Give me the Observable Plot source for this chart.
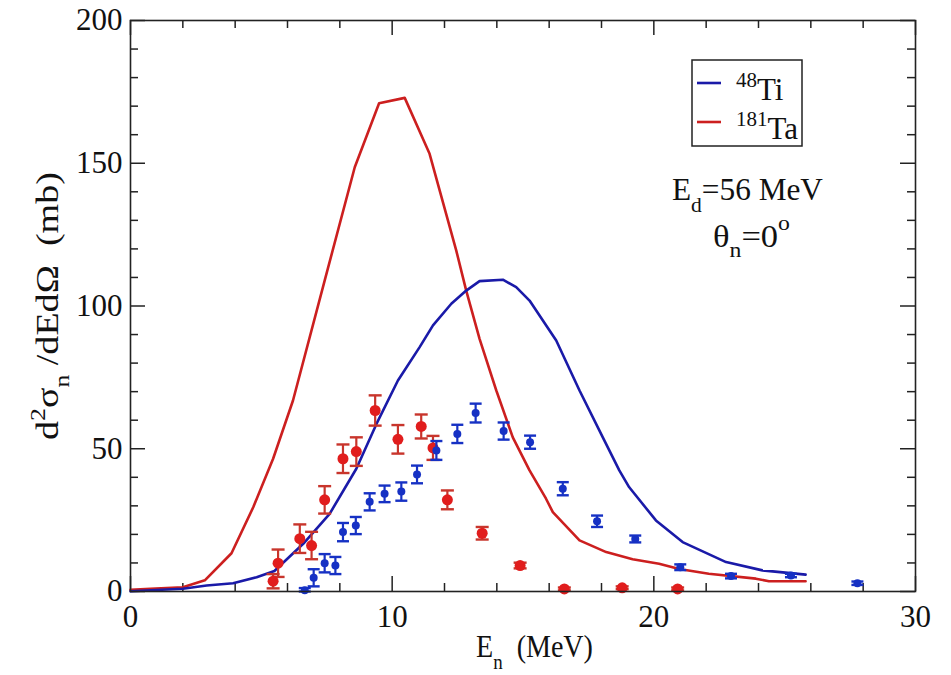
<!DOCTYPE html>
<html>
<head>
<meta charset="utf-8">
<script src="https://cdn.jsdelivr.net/npm/d3@7"></script>
<script src="https://cdn.jsdelivr.net/npm/@observablehq/plot@0.6"></script>
<style>
  html, body { margin: 0; padding: 0; background: #fff; }
  #chart { width: 951px; height: 675px; }
  #chart svg, #chart svg text, #chart svg tspan { font-family: "Liberation Serif", "Times New Roman", Times, "DejaVu Serif", serif !important; }
</style>
</head>
<body>
<div id="chart"></div>
<script>
// ---------- data ----------
const seriesNames = ["48Ti", "181Ta"];

// 48Ti experimental points: E_n (MeV), d2sigma (mb), error (mb)
const tiX   = [6.66, 7.0, 7.42, 7.83, 8.12, 8.61, 9.14, 9.71, 10.35, 10.95, 11.69, 12.49, 13.19, 14.26, 15.27, 16.52, 17.83, 19.29, 21.01, 22.95, 25.24, 27.78];
const tiY   = [0.4, 4.8, 9.9, 9.1, 20.8, 23.1, 31.4, 34.2, 35.0, 41.0, 49.4, 55.2, 62.5, 56.2, 52.3, 36.0, 24.6, 18.4, 8.5, 5.4, 5.6, 2.9];
const tiErr = [0.8, 3.0, 3.2, 3.0, 3.2, 3.0, 3.0, 2.9, 3.2, 3.1, 3.3, 3.2, 3.3, 3.0, 2.3, 2.3, 2.0, 1.2, 1.0, 0.8, 0.6, 0.6];

// 181Ta experimental points
const taX   = [5.45, 5.64, 6.47, 6.92, 7.42, 8.12, 8.63, 9.35, 10.22, 11.11, 11.56, 12.11, 13.44, 14.89, 16.58, 18.79, 20.91];
const taY   = [3.6, 9.9, 18.5, 16.1, 32.1, 46.5, 49.0, 63.4, 53.3, 57.8, 50.3, 32.1, 20.4, 9.1, 0.9, 1.3, 0.9];
const taErr = [2.5, 4.8, 5.0, 4.8, 4.8, 5.0, 5.0, 5.3, 5.0, 4.2, 4.2, 3.3, 2.2, 1.0, 0.5, 0.5, 0.5];

// calculated curves
const tiCurveX = [0, 2.0, 2.91, 3.92, 4.82, 5.5, 6.6, 7.61, 8.63, 9.4, 10.22, 11.05, 11.56, 12.26, 12.83, 13.34, 14.23, 14.74, 15.25, 16.27, 17.16, 18.05, 18.68, 19.06, 20.08, 21.1, 22.76, 24.15, 25.8];
const tiCurveY = [0.1, 0.95, 2.1, 2.9, 5.0, 7.2, 16.7, 27.2, 43.0, 58.7, 73.9, 85.6, 93.2, 100.8, 105.4, 108.7, 109.2, 106.6, 101.9, 87.9, 70.4, 54.0, 42.4, 36.5, 24.9, 17.3, 10.3, 7.4, 5.9];
const taCurveX = [0, 0.76, 2.0, 2.84, 3.86, 4.69, 5.45, 6.21, 7.42, 8.57, 9.5, 10.48, 11.43, 12.45, 12.83, 13.34, 13.98, 14.61, 15.25, 15.88, 16.14, 17.16, 18.18, 19.19, 20.2, 20.97, 22.1, 23.9, 24.4, 25.8];
const taCurveY = [0.6, 0.95, 1.5, 3.9, 13.4, 29.5, 46.5, 66.9, 108.9, 148.6, 171.0, 172.9, 153.3, 119.4, 105.4, 88.5, 70.4, 54.0, 42.4, 32.5, 27.8, 17.9, 13.8, 11.3, 9.7, 7.9, 6.2, 4.5, 3.6, 3.6];

// axis ticks
const xMajor = [0, 10, 20, 30];
const xMinor = [2, 4, 6, 8, 12, 14, 16, 18, 22, 24, 26, 28];
const yMajor = [0, 50, 100, 150, 200];
const yMinor = [10, 20, 30, 40, 60, 70, 80, 90, 110, 120, 130, 140, 160, 170, 180, 190];

// ---------- build tables ----------
const tiPts = tiX.map((x, i) => ({x, y: tiY[i], e: tiErr[i]}));
const taPts = taX.map((x, i) => ({x, y: taY[i], e: taErr[i]}));
const tiCurve = tiCurveX.map((x, i) => ({x, y: tiCurveY[i]}));
const taCurve = taCurveX.map((x, i) => ({x, y: taCurveY[i]}));

const W = 951, H = 675;
const mL = 130, mR = 36, mT = 20, mB = 84;
const innerW = W - mL - mR, innerH = H - mT - mB;
const majLen = 15, minLen = 8;

const BLUE_LINE = "#1a1aa8", BLUE_PT = "#1631c4";
const RED_LINE = "#cc1f1f", RED_PT = "#e11d1d", RED_ERR = "#c8352c";
const FONT = "\"Liberation Serif\", \"Times New Roman\", Times, \"DejaVu Serif\", serif";

// horizontal cap symbol for error bars
const cap = {
  draw(context, size) {
    const w = Math.sqrt(size / Math.PI);
    context.moveTo(-w, 0);
    context.lineTo(w, 0);
  }
};

function errMarks(data, color, capR) {
  return [
    Plot.ruleX(data, {x: "x", y1: d => d.y - d.e, y2: d => d.y + d.e, stroke: color, strokeWidth: 2.2}),
    Plot.dot(data, {x: "x", y: d => d.y + d.e, symbol: cap, r: capR, stroke: color, strokeWidth: 2.4, fill: "none"}),
    Plot.dot(data, {x: "x", y: d => Math.max(0, d.y - d.e), symbol: cap, r: capR, stroke: color, strokeWidth: 2.4, fill: "none"})
  ];
}

const chart = Plot.plot({
  width: W,
  height: H,
  marginLeft: mL, marginRight: mR, marginTop: mT, marginBottom: mB,
  style: {fontFamily: FONT, fontSize: "31px", color: "#111", background: "#fff"},
  x: {domain: [0, 30]},
  y: {domain: [0, 200]},
  marks: [
    // tick labels
    Plot.axisX({ticks: xMajor, tickSize: 0, tickPadding: 13, label: null, fontSize: 31}),
    Plot.axisY({ticks: yMajor, tickSize: 0, tickPadding: 8, label: null, fontSize: 31}),
    // inward ticks, bottom & top
    Plot.tickX(xMajor, {x: d => d, insetTop: innerH - majLen, stroke: "#222", strokeWidth: 1.5}),
    Plot.tickX(xMinor, {x: d => d, insetTop: innerH - minLen, stroke: "#222", strokeWidth: 1.5}),
    Plot.tickX(xMajor, {x: d => d, insetBottom: innerH - majLen, stroke: "#222", strokeWidth: 1.5}),
    Plot.tickX(xMinor, {x: d => d, insetBottom: innerH - minLen, stroke: "#222", strokeWidth: 1.5}),
    // inward ticks, left & right
    Plot.tickY(yMajor, {y: d => d, insetRight: innerW - majLen, stroke: "#222", strokeWidth: 1.5}),
    Plot.tickY(yMinor, {y: d => d, insetRight: innerW - minLen, stroke: "#222", strokeWidth: 1.5}),
    Plot.tickY(yMajor, {y: d => d, insetLeft: innerW - majLen, stroke: "#222", strokeWidth: 1.5}),
    Plot.tickY(yMinor, {y: d => d, insetLeft: innerW - minLen, stroke: "#222", strokeWidth: 1.5}),
    // curves
    Plot.line(taCurve, {x: "x", y: "y", stroke: RED_LINE, strokeWidth: 2.6}),
    Plot.line(tiCurve, {x: "x", y: "y", stroke: BLUE_LINE, strokeWidth: 2.6}),
    // experimental points
    ...errMarks(taPts, RED_ERR, 6.5),
    Plot.dot(taPts, {x: "x", y: "y", r: 5.5, fill: RED_PT}),
    ...errMarks(tiPts, BLUE_PT, 6),
    Plot.dot(tiPts, {x: "x", y: "y", r: 4, fill: BLUE_PT}),
    Plot.frame({stroke: "#222", strokeWidth: 1.6})
  ]
});

document.getElementById("chart").append(chart);

// ---------- text annotations with sub/superscripts ----------
const svg = d3.select(chart);

function richText(parent, x, y, parts, opts = {}) {
  const t = parent.append("text")
    .attr("x", 0).attr("y", 0)
    .attr("font-family", FONT)
    .attr("font-size", opts.size || 30)
    .attr("fill", "#111")
    .attr("text-anchor", opts.anchor || "start");
  let cur = 0;
  for (const p of parts) {
    const shift = p.shift || 0;
    const ts = t.append("tspan").text(p.t).attr("dy", shift - cur);
    if (p.size) ts.attr("font-size", p.size);
    cur = shift;
  }
  let sx = 1;
  if (opts.length) {
    const len = t.node().getComputedTextLength();
    if (len > 0) sx = opts.length / len;
  }
  t.attr("transform", `translate(${x},${y}) rotate(${opts.rotate || 0}) scale(${sx},1)`);
  return t;
}

// y-axis label (runs from y=440 up to y=170)
richText(svg, 58, 440, [
  {t: "d"}, {t: "2", shift: -13, size: 21}, {t: "σ", shift: 0}, {t: "n", shift: 11, size: 21},
  {t: " /dEdΩ  (mb)", shift: 0}
], {rotate: -90, size: 31, length: 268});

// x-axis label
richText(svg, 476, 657, [
  {t: "E"}, {t: "n", shift: 12, size: 21}, {t: "  (MeV)", shift: 0}
], {size: 31, length: 117});

// annotation
richText(svg, 672, 200, [
  {t: "E"}, {t: "d", shift: 12, size: 22}, {t: "=56 MeV", shift: 0}
], {size: 32, length: 151});
richText(svg, 713, 247, [
  {t: "θ"}, {t: "n", shift: 10, size: 22}, {t: "=0", shift: 0}, {t: "o", shift: -17, size: 22}
], {size: 32, length: 77});

// legend
const lg = svg.append("g");
lg.append("rect").attr("x", 692).attr("y", 60).attr("width", 110).attr("height", 86)
  .attr("fill", "#fff").attr("stroke", "#222").attr("stroke-width", 1.5);
const legendColors = [BLUE_LINE, RED_LINE];
const legendY = [83, 122];
seriesNames.forEach((name, i) => {
  const y = legendY[i];
  lg.append("line").attr("x1", 697).attr("x2", 721).attr("y1", y).attr("y2", y)
    .attr("stroke", legendColors[i]).attr("stroke-width", 2.6);
  const m = name.match(/^(\d+)(.*)$/);
  richText(lg, 736, y + 17, [
    {t: m[1], shift: -13, size: 21}, {t: m[2], shift: 0}
  ], {size: 31});
});
</script>
</body>
</html>
